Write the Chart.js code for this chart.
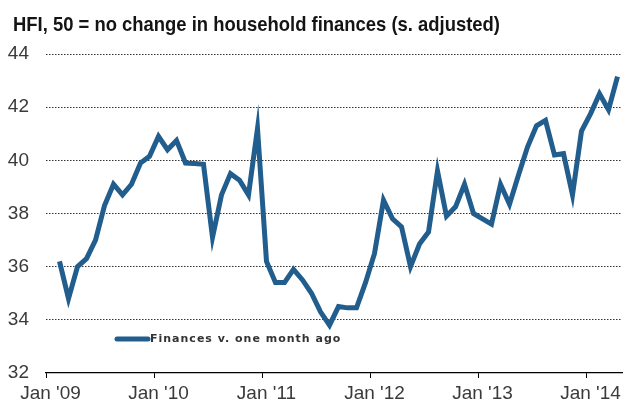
<!DOCTYPE html>
<html>
<head>
<meta charset="utf-8">
<script src="https://cdn.jsdelivr.net/npm/chart.js@4/dist/chart.umd.min.js"></script>
<style>
  html, body { margin: 0; padding: 0; background: #fff; }
  #wrap { width: 633px; height: 404px; position: relative; }
</style>
</head>
<body>
<div id="wrap"><canvas id="c" width="633" height="404"></canvas></div>
<script>
const titleText = "HFI, 50 = no change in household finances (s. adjusted)";
const seriesName = "Finances v. one month ago";
const years = ["09", "10", "11", "12", "13", "14"];
const monthNames = ["Jan","Feb","Mar","Apr","May","Jun","Jul","Aug","Sep","Oct","Nov","Dec"];
const firstMonthShown = "Jan '09";
const lastMonthShown = "Apr '14";
// Monthly values, Feb 2009 .. Apr 2014
const values2009 = [36.2, 34.8, 36.0, 36.3, 37.0, 38.3, 39.1, 38.7, 39.1, 39.9, 40.15]; // Feb-Dec
const values2010 = [40.9, 40.4, 40.75, 39.9, 39.88, 39.85, 37.1, 38.7, 39.5, 39.25, 38.7, 41.2];
const values2011 = [36.2, 35.4, 35.4, 35.9, 35.5, 35.0, 34.3, 33.8, 34.5, 34.45, 34.45, 35.4];
const values2012 = [36.5, 38.5, 37.8, 37.5, 36.0, 36.85, 37.3, 39.6, 37.9, 38.25, 39.1, 38.0];
const values2013 = [37.8, 37.6, 39.1, 38.35, 39.45, 40.5, 41.3, 41.5, 40.2, 40.25, 38.7, 41.1];
const values2014 = [41.75, 42.5, 41.9, 43.15]; // Jan-Apr
const yTicks = [32, 34, 36, 38, 40, 42, 44];

// categories: every month Jan '09 .. Apr '14
const categories = [];
for (const y of years) for (const m of monthNames) categories.push(m + " '" + y);
const categoriesUsed = categories.slice(categories.indexOf(firstMonthShown), categories.indexOf(lastMonthShown) + 1);
const values = [null].concat(values2009, values2010, values2011, values2012, values2013, values2014);

const titlePlugin = {
  id: 'customTitle',
  afterDraw(chart) {
    const ctx = chart.ctx;
    ctx.save();
    ctx.font = "bold 21px 'Liberation Sans', Arial, sans-serif";
    ctx.fillStyle = '#141414';
    ctx.textBaseline = 'alphabetic';
    const w = ctx.measureText(titleText).width;
    const target = 487;
    ctx.translate(13, 31);
    ctx.scale(target / w, 1);
    ctx.fillText(titleText, 0, 0);
    ctx.restore();
  }
};

const legendPlugin = {
  id: 'insideLegend',
  afterDraw(chart) {
    const ctx = chart.ctx;
    const ds = chart.data.datasets[0];
    const a = chart.chartArea;
    const y = a.bottom - 34;
    const x0 = a.left + 69;
    ctx.save();
    ctx.strokeStyle = ds.borderColor;
    ctx.lineWidth = 5;
    ctx.lineCap = 'round';
    ctx.beginPath();
    ctx.moveTo(x0 + 2, y);
    ctx.lineTo(x0 + 33, y);
    ctx.stroke();
    ctx.font = "bold 11px 'DejaVu Sans', Verdana, sans-serif";
    ctx.fillStyle = '#333333';
    ctx.textBaseline = 'middle';
    if ('letterSpacing' in ctx) ctx.letterSpacing = '1px';
    ctx.fillText(ds.label, x0 + 35, y + 0.5);
    ctx.restore();
  }
};

new Chart(document.getElementById('c'), {
  type: 'line',
  data: {
    labels: categoriesUsed,
    datasets: [{
      label: seriesName,
      data: values,
      borderColor: '#215d8d',
      borderWidth: 5,
      pointRadius: 0,
      pointHoverRadius: 0,
      tension: 0,
      fill: false,
      spanGaps: false
    }]
  },
  options: {
    responsive: false,
    animation: false,
    devicePixelRatio: 1,
    layout: { padding: { top: 54, left: 0, right: 11, bottom: 0 } },
    plugins: {
      legend: { display: false },
      title: { display: false },
      tooltip: { enabled: false }
    },
    scales: {
      x: {
        type: 'category',
        offset: true,
        afterFit(s) { s.height = 31; },
        border: { display: true, color: '#000000', width: 1.2 },
        grid: {
          offset: true,
          drawOnChartArea: false,
          drawTicks: true,
          tickLength: 5,
          color(ctx) {
            const lbl = categoriesUsed[ctx.index];
            return (lbl && lbl.startsWith('Jan')) ? '#000000' : 'rgba(0,0,0,0)';
          }
        },
        ticks: {
          autoSkip: false,
          maxRotation: 0,
          minRotation: 0,
          padding: 4,
          color: '#3a3a3a',
          font: { family: "'Liberation Sans', Arial, sans-serif", size: 19 },
          callback(val, idx) {
            const lbl = categoriesUsed[idx];
            return lbl.startsWith('Jan') ? lbl : '';
          }
        }
      },
      y: {
        min: 32,
        max: 44,
        afterFit(s) { s.width = 46; },
        afterBuildTicks(s) { s.ticks = yTicks.map(v => ({ value: v })); },
        border: { display: false, dash: [1.5, 1.5] },
        grid: {
          drawTicks: false,
          lineWidth: 1,
          color(ctx) { return ctx.tick && ctx.tick.value === 32 ? 'rgba(0,0,0,0)' : '#333333'; }
        },
        ticks: {
          padding: 17,
          color: '#3a3a3a',
          font: { family: "'Liberation Sans', Arial, sans-serif", size: 19 }
        }
      }
    }
  },
  plugins: [titlePlugin, legendPlugin]
});
</script>
</body>
</html>
